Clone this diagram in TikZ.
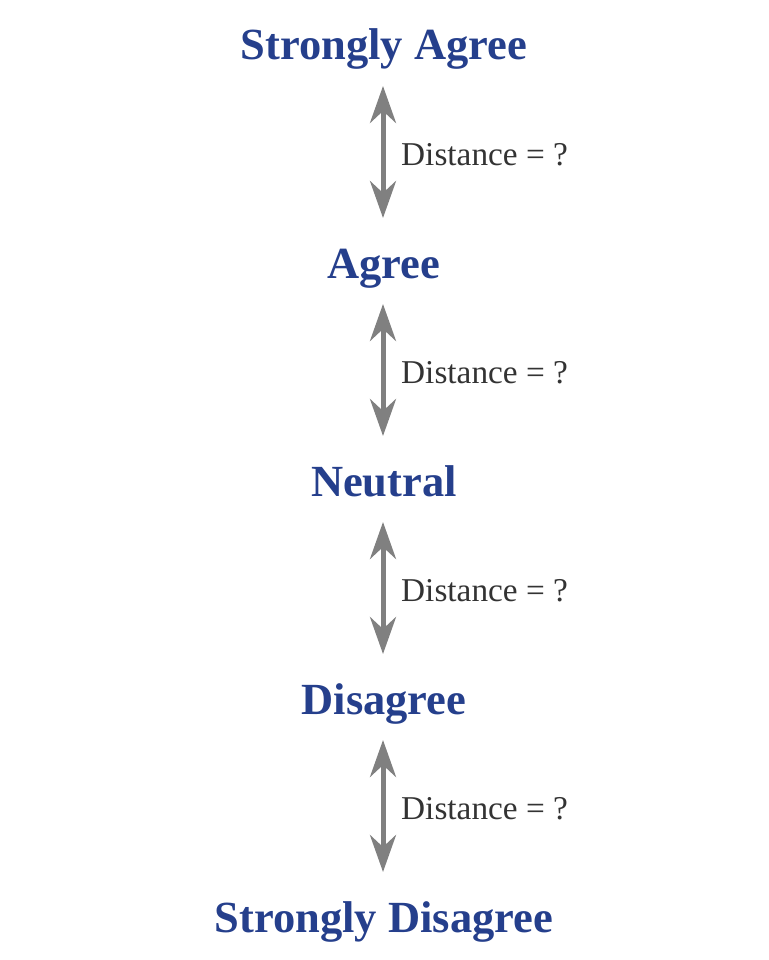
\documentclass[tikz,border=0pt]{standalone}
\usepackage{fontspec}
\setmainfont{Liberation Serif}
\usetikzlibrary{arrows.meta,calc}
\definecolor{headblue}{HTML}{253F8C}
\definecolor{arrowgray}{HTML}{808080}
\definecolor{labelgray}{HTML}{333333}
\tikzset{
  heading/.style={anchor=base, inner sep=0pt, text=headblue, font=\fontsize{44.5}{50}\selectfont\bfseries},
  distlabel/.style={anchor=base west, inner sep=0pt, text=labelgray, font=\fontsize{33.3}{40}\selectfont},
  dblarrow/.style={draw=arrowgray, line width=5pt, {Stealth[length=37pt,width=26pt,inset=12pt]}-{Stealth[length=37pt,width=26pt,inset=12pt]}}
}
\begin{document}
\begin{tikzpicture}[x=1pt,y=1pt]
\useasboundingbox (0,0) rectangle (768,-960);
\node[heading] (h1) at (384,-60) {Strongly Agree};
\node[heading] (h2) at (384,-278) {Agree};
\node[heading] (h3) at (384,-496) {Neutral};
\node[heading] (h4) at (384,-714) {Disagree};
\node[heading] (h5) at (384,-932) {Strongly Disagree};
\foreach \a/\b [count=\i] in {h1/h2,h2/h3,h3/h4,h4/h5}{
  \coordinate (top\i) at ([xshift=-1pt,yshift=-26pt]\a.base);
  \coordinate (bot\i) at ([xshift=-1pt,yshift=60pt]\b.base);
  \draw[dblarrow] (top\i) -- (bot\i);
  \node[distlabel] (d\i) at ([xshift=18pt,yshift=-13pt]$(top\i)!0.5!(bot\i)$) {Distance = ?};
}
\end{tikzpicture}
\end{document}
